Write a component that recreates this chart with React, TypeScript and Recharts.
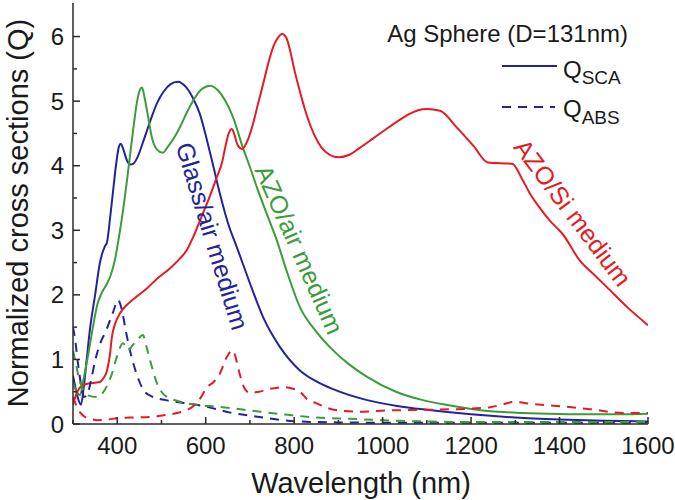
import React from 'react';
import { LineChart, Line, XAxis, YAxis } from 'recharts';

// ---------- data (wavelength nm, Q) ----------
const glassAirSca: [number, number][] = [
  [300, 0.75], [306, 0.55], [312, 0.38], [318, 0.3], [324, 0.55], [331, 1.0], [338, 1.45], [350, 2.0],
  [361, 2.5], [366, 2.64], [372, 2.75], [377, 2.82], [384, 3.2], [390, 3.57], [398, 4.05], [404, 4.3],
  [408, 4.34], [414, 4.25], [422, 4.08], [430, 4.02], [436, 4.03], [445, 4.12], [460, 4.4], [475, 4.7],
  [490, 4.97], [505, 5.15], [520, 5.26], [537, 5.3], [555, 5.22], [571, 5.05], [587, 4.8], [603, 4.39],
  [617, 4.0], [632, 3.57], [650, 3.12], [673, 2.69], [700, 2.18], [730, 1.65], [768, 1.19], [813, 0.83],
  [850, 0.66], [888, 0.54], [965, 0.37], [1033, 0.28], [1100, 0.22], [1200, 0.15], [1300, 0.1],
  [1400, 0.07], [1500, 0.05], [1600, 0.04],
];
const azoAirSca: [number, number][] = [
  [300, 0.65], [308, 0.5], [316, 0.45], [324, 0.7], [335, 1.1], [345, 1.5], [355, 1.85], [363, 2.0],
  [368, 2.07], [375, 2.15], [385, 2.3], [395, 2.55], [404, 2.9], [413, 3.3], [424, 3.88], [435, 4.5],
  [445, 5.0], [451, 5.17], [456, 5.21], [462, 5.05], [470, 4.75], [478, 4.45], [490, 4.25], [503, 4.2],
  [515, 4.3], [530, 4.45], [542, 4.6], [557, 4.82], [571, 5.0], [590, 5.18], [610, 5.24], [630, 5.15],
  [645, 5.0], [662, 4.75], [684, 4.28], [700, 3.98], [716, 3.66], [740, 3.22], [761, 2.84], [785, 2.33],
  [813, 1.81], [850, 1.43], [888, 1.14], [925, 0.92], [965, 0.73], [1030, 0.5], [1091, 0.37],
  [1150, 0.29], [1204, 0.23], [1260, 0.19], [1317, 0.17], [1400, 0.155], [1469, 0.15], [1540, 0.15],
  [1600, 0.16],
];
const azoSiSca: [number, number][] = [
  [300, 0.3], [307, 0.45], [314, 0.55], [322, 0.6], [338, 0.63], [350, 0.64], [361, 0.65], [368, 0.7],
  [377, 0.83], [383, 1.05], [388, 1.35], [395, 1.55], [406, 1.71], [418, 1.82], [429, 1.89], [445, 1.98],
  [467, 2.1], [490, 2.25], [519, 2.41], [540, 2.55], [557, 2.69], [572, 2.9], [587, 3.15], [605, 3.45],
  [625, 3.82], [637, 4.05], [644, 4.28], [652, 4.5], [659, 4.57], [665, 4.48], [672, 4.32], [682, 4.26],
  [692, 4.35], [705, 4.6], [718, 4.95], [730, 5.27], [742, 5.6], [752, 5.83], [763, 5.98], [773, 6.04],
  [783, 5.97], [792, 5.75], [800, 5.5], [815, 5.1], [830, 4.75], [846, 4.47], [862, 4.28], [880, 4.17],
  [900, 4.13], [925, 4.17], [949, 4.28], [978, 4.42], [1015, 4.6], [1055, 4.78], [1080, 4.86],
  [1100, 4.88], [1130, 4.85], [1168, 4.59], [1205, 4.31], [1238, 4.05], [1293, 4.03], [1315, 3.8],
  [1333, 3.57], [1355, 3.35], [1378, 3.15], [1395, 3.03], [1406, 2.95], [1446, 2.53], [1480, 2.3],
  [1507, 2.12], [1553, 1.81], [1600, 1.53],
];
const glassAirAbs: [number, number][] = [
  [300, 1.5], [305, 1.3], [311, 0.95], [318, 0.62], [325, 0.42], [332, 0.45], [340, 0.65], [350, 0.98],
  [360, 1.22], [375, 1.45], [390, 1.72], [402, 1.92], [410, 1.78], [420, 1.42], [432, 1.05], [445, 0.75],
  [460, 0.52], [480, 0.42], [510, 0.37], [557, 0.32], [600, 0.27], [660, 0.17], [700, 0.13], [740, 0.09],
  [810, 0.04], [900, 0.025], [1000, 0.02], [1200, 0.02], [1600, 0.02],
];
const azoAirAbs: [number, number][] = [
  [300, 1.14], [306, 0.95], [313, 0.72], [323, 0.53], [335, 0.44], [354, 0.42], [372, 0.53], [388, 0.78],
  [399, 1.04], [413, 1.25], [425, 1.14], [435, 1.22], [445, 1.3], [458, 1.38], [466, 1.2], [474, 0.99],
  [482, 0.8], [490, 0.63], [500, 0.5], [512, 0.42], [535, 0.36], [557, 0.32], [587, 0.29], [625, 0.27],
  [700, 0.21], [775, 0.15], [851, 0.1], [926, 0.08], [1039, 0.05], [1200, 0.03], [1600, 0.03],
];
const azoSiAbs: [number, number][] = [
  [300, 0.42], [308, 0.28], [316, 0.18], [325, 0.12], [340, 0.08], [354, 0.06], [380, 0.07], [399, 0.09],
  [430, 0.1], [474, 0.11], [510, 0.14], [535, 0.17], [555, 0.21], [571, 0.27], [588, 0.4], [603, 0.57],
  [618, 0.65], [632, 0.78], [648, 1.04], [660, 1.14], [667, 1.05], [673, 0.88], [680, 0.7], [688, 0.55],
  [700, 0.48], [720, 0.5], [750, 0.55], [775, 0.57], [795, 0.55], [813, 0.5], [830, 0.38], [851, 0.32],
  [874, 0.25], [900, 0.21], [949, 0.19], [1010, 0.21], [1100, 0.22], [1204, 0.24], [1243, 0.26],
  [1270, 0.3], [1295, 0.34], [1340, 0.31], [1394, 0.28], [1469, 0.23], [1543, 0.17], [1600, 0.17],
];

const xTicks = [300, 400, 500, 600, 700, 800, 900, 1000, 1100, 1200, 1300, 1400, 1500, 1600];
const xLabelTicks = [400, 600, 800, 1000, 1200, 1400, 1600];
const yTicks = [0, 0.5, 1, 1.5, 2, 2.5, 3, 3.5, 4, 4.5, 5, 5.5, 6];
const yLabelTicks = [0, 1, 2, 3, 4, 5, 6];

const xTitle = 'Wavelength (nm)';
const yTitle = 'Normalized cross sections (Q)';
const legendTitle = 'Ag Sphere (D=131nm)';
const labelGlass = 'Glass/air medium';
const labelAzoAir = 'AZO/air medium';
const labelAzoSi = 'AZO/Si medium';

// ---------- styles ----------
const W = 675;
const H = 500;
const FONT = '"Liberation Sans", Arial, Helvetica, sans-serif';
const AX = '#2b2b2b';
const TXT = '#1a1a1a';
const BLUE = '#23249a';
const GREEN = '#3c9c3c';
const RED = '#e31b23';
const DASH = '9 7';

const toPts = (arr: [number, number][]) => arr.map(([x, y]) => ({ x, y }));

const BottomTick = (p: any) => {
  const { x, y, payload } = p;
  const v = payload.value;
  const major = xLabelTicks.includes(v);
  return (
    <g>
      <line x1={x} y1={y} x2={x} y2={y - (major ? 7 : 4)} stroke={AX} strokeWidth={1.5} />
      {major && (
        <text x={x} y={y + 30} textAnchor="middle" fontSize={24} fontFamily={FONT} fill={TXT}>
          {v}
        </text>
      )}
    </g>
  );
};
const TopTick = (p: any) => {
  const { x, y, payload } = p;
  const major = xLabelTicks.includes(payload.value);
  return <line x1={x} y1={y} x2={x} y2={y + (major ? 7 : 4)} stroke={AX} strokeWidth={1.5} />;
};
const LeftTick = (p: any) => {
  const { x, y, payload } = p;
  const v = payload.value;
  const major = yLabelTicks.includes(v);
  return (
    <g>
      <line x1={x} y1={y} x2={x + (major ? 7 : 4)} y2={y} stroke={AX} strokeWidth={1.5} />
      {major && (
        <text x={x - 9} y={y + 8.5} textAnchor="end" fontSize={24} fontFamily={FONT} fill={TXT}>
          {v}
        </text>
      )}
    </g>
  );
};
const RightTick = (p: any) => {
  const { x, y, payload } = p;
  const major = yLabelTicks.includes(payload.value);
  return <line x1={x} y1={y} x2={x - (major ? 7 : 4)} y2={y} stroke={AX} strokeWidth={1.5} />;
};

const series = [
  { key: 'gs', data: glassAirSca, color: BLUE, dash: undefined },
  { key: 'as', data: azoAirSca, color: GREEN, dash: undefined },
  { key: 'ss', data: azoSiSca, color: RED, dash: undefined },
  { key: 'ga', data: glassAirAbs, color: BLUE, dash: DASH },
  { key: 'aa', data: azoAirAbs, color: GREEN, dash: DASH },
  { key: 'sa', data: azoSiAbs, color: RED, dash: DASH },
];

const RotLabel = ({ cx, cy, angle, color, text }: any) => (
  <text
    transform={`translate(${cx},${cy}) rotate(${angle})`}
    textAnchor="middle"
    dominantBaseline="central"
    fontSize={25}
    fontFamily={FONT}
    fill={color}
  >
    {text}
  </text>
);

export default function App() {
  return (
    <div style={{ position: 'absolute', left: 0, top: 0, width: W, height: H, background: '#fff' }}>
      <LineChart width={W} height={H} margin={{ top: 3, right: 27, bottom: 0, left: 0 }}>
        <XAxis
          xAxisId="b"
          dataKey="x"
          type="number"
          domain={[300, 1600]}
          ticks={xTicks}
          interval={0}
          height={76}
          tickSize={0}
          tickMargin={0}
          tick={<BottomTick />}
          axisLine={{ stroke: AX, strokeWidth: 1.5 }}
          allowDataOverflow
        />
        <XAxis
          xAxisId="t"
          orientation="top"
          dataKey="x"
          type="number"
          domain={[300, 1600]}
          ticks={xTicks}
          interval={0}
          height={0}
          tickSize={0}
          tickMargin={0}
          tick={<TopTick />}
          axisLine={{ stroke: AX, strokeWidth: 1.5 }}
          allowDataOverflow
        />
        <YAxis
          yAxisId="l"
          type="number"
          domain={[0, 6.52]}
          ticks={yTicks}
          interval={0}
          width={73}
          tickSize={0}
          tickMargin={0}
          tick={<LeftTick />}
          axisLine={{ stroke: AX, strokeWidth: 1.5 }}
          allowDataOverflow
        />
        <YAxis
          yAxisId="r"
          orientation="right"
          type="number"
          domain={[0, 6.52]}
          ticks={yTicks}
          interval={0}
          width={0}
          tickSize={0}
          tickMargin={0}
          tick={<RightTick />}
          axisLine={{ stroke: AX, strokeWidth: 1.5 }}
          allowDataOverflow
        />
        {series.map((s) => (
          <Line
            key={s.key}
            xAxisId="b"
            yAxisId="l"
            data={toPts(s.data)}
            dataKey="y"
            type="monotone"
            stroke={s.color}
            strokeWidth={2}
            strokeDasharray={s.dash}
            dot={false}
            activeDot={false}
            isAnimationActive={false}
          />
        ))}
      </LineChart>
      <svg
        width={W}
        height={H}
        style={{ position: 'absolute', left: 0, top: 0, pointerEvents: 'none' }}
      >
        <text x={361} y={493} textAnchor="middle" fontSize={29} fontFamily={FONT} fill={TXT}>
          {xTitle}
        </text>
        <text
          transform="translate(28,213) rotate(-90)"
          textAnchor="middle"
          fontSize={29}
          fontFamily={FONT}
          fill={TXT}
        >
          {yTitle}
        </text>
        <text x={628} y={42} textAnchor="end" fontSize={24} fontFamily={FONT} fill={TXT}>
          {legendTitle}
        </text>
        <line x1={502} y1={66} x2={557} y2={66} stroke={BLUE} strokeWidth={2} />
        <text x={563} y={78} fontSize={24} fontFamily={FONT} fill={TXT}>
          Q<tspan fontSize={19} dy={6}>SCA</tspan>
        </text>
        <line x1={502} y1={107} x2={555} y2={107} stroke={BLUE} strokeWidth={2} strokeDasharray={DASH} />
        <text x={563} y={117} fontSize={24} fontFamily={FONT} fill={TXT}>
          Q<tspan fontSize={19} dy={7}>ABS</tspan>
        </text>
        <RotLabel cx={212.5} cy={236} angle={73} color={BLUE} text={labelGlass} />
        <RotLabel cx={299.5} cy={249.5} angle={66} color={GREEN} text={labelAzoAir} />
        <RotLabel cx={573} cy={212.5} angle={53} color={RED} text={labelAzoSi} />
      </svg>
    </div>
  );
}
